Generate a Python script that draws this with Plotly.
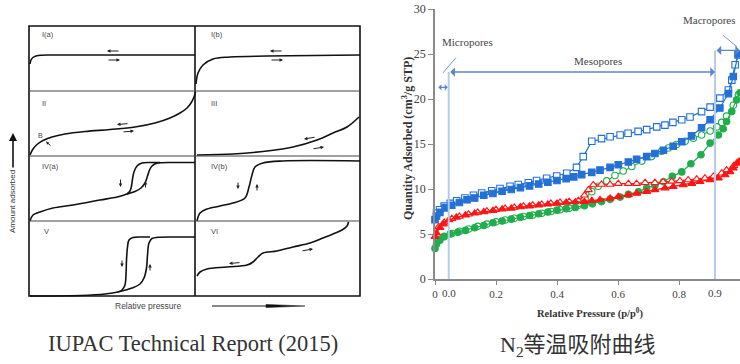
import plotly.graph_objects as go

# ---------------- Right chart data (N2 isotherms) ----------------
blue_ads_x = [0.0, 0.005, 0.016, 0.033, 0.055, 0.08, 0.105, 0.13, 0.16, 0.19, 0.22, 0.25, 0.28, 0.31, 0.34,
              0.37, 0.40, 0.43, 0.455, 0.481, 0.514, 0.541, 0.574, 0.601, 0.634, 0.661, 0.694, 0.721, 0.749,
              0.781, 0.809, 0.841, 0.874, 0.902, 0.934, 0.962, 0.978, 0.994]
blue_ads_y = [6.6, 7.0, 7.4, 7.9, 8.2, 8.5, 8.8, 9.0, 9.3, 9.5, 9.75, 9.95, 10.15, 10.35, 10.55,
              10.75, 10.95, 11.15, 11.35, 11.6, 11.85, 12.1, 12.4, 12.7, 13.0, 13.3, 13.6, 13.95, 14.3,
              14.75, 15.25, 15.9, 16.8, 17.7, 19.0, 20.6, 22.5, 25.0]
blue_des_x = [0.994, 0.984, 0.973, 0.962, 0.934, 0.902, 0.874, 0.836, 0.809, 0.780, 0.754, 0.727, 0.694,
              0.666, 0.633, 0.607, 0.574, 0.546, 0.514, 0.486, 0.464, 0.432, 0.399, 0.366, 0.333, 0.306,
              0.273, 0.246, 0.213, 0.186, 0.153, 0.126, 0.098, 0.071, 0.05, 0.03, 0.015, 0.005]
blue_des_y = [24.9, 23.8, 22.1, 21.0, 20.1, 19.1, 18.6, 18.0, 17.7, 17.4, 17.1, 16.9, 16.6,
              16.4, 16.2, 16.0, 15.8, 15.6, 15.3, 13.6, 12.4, 11.75, 11.45, 11.2, 10.95, 10.7,
              10.5, 10.3, 10.05, 9.8, 9.55, 9.3, 9.0, 8.7, 8.4, 8.1, 7.7, 7.3]
green_ads_x = [0.0, 0.005, 0.016, 0.03, 0.05, 0.075, 0.10, 0.13, 0.16, 0.19, 0.22, 0.25, 0.28, 0.31, 0.34,
               0.37, 0.40, 0.43, 0.46, 0.49, 0.516, 0.546, 0.574, 0.607, 0.634, 0.667, 0.694, 0.721, 0.749,
               0.778, 0.809, 0.839, 0.872, 0.902, 0.929, 0.945, 0.956, 0.973, 0.989, 1.0]
green_ads_y = [3.4, 3.9, 4.3, 4.7, 5.0, 5.2, 5.4, 5.7, 5.95, 6.25, 6.45, 6.65, 6.85, 7.05, 7.25,
               7.45, 7.65, 7.8, 7.95, 8.15, 8.35, 8.6, 8.85, 9.1, 9.4, 9.7, 10.1, 10.4, 10.8,
               11.4, 11.9, 12.8, 13.8, 15.1, 16.0, 16.7, 17.5, 18.6, 19.9, 20.7]
green_des_x = [0.995, 0.978, 0.956, 0.94, 0.924, 0.902, 0.874, 0.847, 0.82, 0.792, 0.765, 0.743, 0.71,
               0.678, 0.645, 0.617, 0.59, 0.563, 0.535, 0.514, 0.492, 0.47, 0.44, 0.41, 0.38, 0.35,
               0.32, 0.29, 0.26, 0.23, 0.2, 0.17, 0.14, 0.11, 0.08, 0.055, 0.03, 0.012]
green_des_y = [20.5, 19.3, 18.1, 17.4, 16.9, 16.45, 16.0, 15.65, 15.3, 14.95, 14.55, 14.2, 13.6,
               13.1, 12.5, 12.0, 11.5, 10.9, 10.3, 9.7, 8.9, 8.2, 7.85, 7.7, 7.5, 7.3,
               7.1, 6.95, 6.75, 6.55, 6.35, 6.1, 5.85, 5.55, 5.3, 5.05, 4.75, 4.35]
red_ads_x = [0.0, 0.005, 0.016, 0.028, 0.045, 0.07, 0.10, 0.13, 0.16, 0.19, 0.22, 0.25, 0.28, 0.31, 0.34,
             0.37, 0.40, 0.43, 0.46, 0.49, 0.514, 0.541, 0.574, 0.601, 0.634, 0.661, 0.694, 0.721, 0.754,
             0.781, 0.814, 0.842, 0.869, 0.902, 0.929, 0.951, 0.967, 0.978, 0.989, 1.0]
red_ads_y = [4.7, 5.1, 5.7, 6.1, 6.55, 6.85, 7.1, 7.3, 7.45, 7.6, 7.75, 7.85, 8.0, 8.1, 8.2,
             8.3, 8.4, 8.5, 8.55, 8.6, 8.7, 8.8, 8.95, 9.15, 9.35, 9.5, 9.7, 9.9, 10.1,
             10.25, 10.45, 10.6, 10.8, 11.0, 11.2, 11.55, 11.9, 12.3, 12.85, 13.1]
red_des_x = [0.995, 0.98, 0.956, 0.94, 0.913, 0.885, 0.858, 0.83, 0.803, 0.776, 0.748, 0.721, 0.689,
             0.661, 0.634, 0.601, 0.574, 0.546, 0.519, 0.503, 0.49, 0.47, 0.44, 0.41, 0.38, 0.35,
             0.32, 0.29, 0.26, 0.23, 0.2, 0.17, 0.14, 0.11, 0.08, 0.055, 0.03, 0.012]
red_des_y = [13.0, 12.6, 12.1, 11.75, 11.4, 11.2, 11.1, 11.0, 10.9, 10.85, 10.8, 10.7, 10.7,
             10.6, 10.6, 10.6, 10.5, 10.5, 10.45, 9.9, 9.3, 8.7, 8.6, 8.5, 8.4, 8.3,
             8.2, 8.1, 7.95, 7.85, 7.7, 7.55, 7.4, 7.2, 6.95, 6.7, 6.3, 5.8]

x_tick_vals = [0, 0.2, 0.4, 0.6, 0.8, 1.0]
x_tick_text = ["0", "0.2", "0.4", "0.6", "0.8", "1"]
y_tick_vals = [0, 5, 10, 15, 20, 25, 30]

micro_limit = 0.045
macro_limit = 0.918

# ---------------- Left diagram: schematic IUPAC isotherm curves (diagram units) ----------------
curve_Ia_x = [30, 31, 33, 36, 41, 50, 70, 195]
curve_Ia_y = [64, 60, 57.5, 56, 55.2, 55, 55, 55]
curve_Ib_x = [196, 198, 203, 213, 230, 267, 360]
curve_Ib_y = [84, 73, 65, 59, 57, 56, 55]
curve_II_x = [30, 33, 37, 43, 52, 65, 85, 110, 135, 155, 170, 180, 187, 191, 194, 195.5]
curve_II_y = [155, 149, 144.5, 140.5, 137, 134, 131.5, 129.5, 127, 123, 118, 113, 108, 103, 97, 92]
curve_III_x = [197, 233, 267, 293, 317, 333, 347, 359]
curve_III_y = [155, 154, 151, 147, 140, 133, 127, 117]
curve_IVa_ads_x = [30, 33, 40, 53, 73, 100, 117, 127, 135, 141, 145, 147.5, 149.5, 152, 156, 162, 170, 195]
curve_IVa_ads_y = [221, 215, 212, 208, 205, 200, 197, 194, 191.5, 188, 183, 176, 170, 166, 163.5, 162.7, 162.5, 162.5]
curve_IVa_des_x = [127, 130, 131.5, 132.5, 134, 137, 142, 150, 160]
curve_IVa_des_y = [194, 191, 186, 179, 172, 166, 163, 162.5, 162.5]
curve_IVb_x = [197, 200, 207, 220, 233, 245, 249, 252, 255, 263, 283, 360]
curve_IVb_y = [221, 213, 209, 206, 203, 198, 187, 175, 167, 163, 161, 161]
curve_V_ads_x = [30, 80, 105, 120, 132, 140, 144, 146.5, 147.5, 149, 152, 158, 175, 195]
curve_V_ads_y = [296, 295.5, 294, 291.5, 288, 284, 278, 268, 255, 243, 238.5, 237.3, 237, 237]
curve_V_des_x = [118, 122, 125, 126, 126.5, 127.5, 129, 133, 140, 150]
curve_V_des_y = [292, 290, 285, 275, 260, 247, 240, 237.5, 237, 237]
curve_VI_x = [197, 200, 207, 227, 247, 253, 258, 263, 277, 293, 310, 323, 333, 342, 347, 348.5]
curve_VI_y = [276, 272, 269, 267, 265, 262, 257, 253, 251, 247, 243, 238, 234, 230, 226, 222]

panel_labels = ["I(a)", "I(b)", "II", "III", "IV(a)", "IV(b)", "V", "VI"]
panel_label_x = [40, 209, 40, 209, 40, 209, 42, 209]
panel_label_y = [34, 34, 103, 103, 166, 166, 231, 231]

# small direction arrows inside the panels: (head_x, head_y, tail_x, tail_y)
panel_arrows = [
    (107, 51, 120, 51), (120, 60, 107, 60),
    (270, 51, 283, 51), (283, 60, 270, 60),
    (117, 124.5, 129, 123.5), (134, 131, 122, 132),
    (304, 139, 316, 137), (324, 147, 312, 149),
    (120.5, 187, 120.5, 178), (145.5, 181, 145.5, 189),
    (238, 189, 238, 181), (257, 184, 257, 192),
    (122, 267, 122, 259), (150, 264, 150, 272),
    (229, 263.5, 241, 262.5), (313, 249, 301, 251),
]

SERIF = "Liberation Serif, Times New Roman, serif"
SANS = "Liberation Sans, Arial, sans-serif"
BLUE = "#2370d6"
GREEN = "#1fae4b"
RED = "#ff1414"

fig = go.Figure()

# ---------- left diagram curves ----------
left_curves = [
    (curve_Ia_x, curve_Ia_y), (curve_Ib_x, curve_Ib_y), (curve_II_x, curve_II_y),
    (curve_III_x, curve_III_y), (curve_IVa_ads_x, curve_IVa_ads_y), (curve_IVa_des_x, curve_IVa_des_y),
    (curve_IVb_x, curve_IVb_y), (curve_V_ads_x, curve_V_ads_y), (curve_V_des_x, curve_V_des_y),
    (curve_VI_x, curve_VI_y),
]
for cx, cy in left_curves:
    fig.add_trace(go.Scatter(x=cx, y=cy, mode="lines", xaxis="x2", yaxis="y2",
                             line=dict(color="#111111", width=1.6, shape="spline", smoothing=1.0),
                             hoverinfo="skip", showlegend=False))

# ---------- right chart series ----------
def add_series(x, y, color, symbol, open_marker):
    fig.add_trace(go.Scatter(
        x=x, y=y, mode="lines+markers", xaxis="x", yaxis="y", cliponaxis=False,
        line=dict(color=color, width=1.2),
        marker=dict(symbol=symbol, size=6.5 if symbol != "triangle-up" else 7,
                    color="white" if open_marker else color,
                    line=dict(color=color, width=1.1)),
        showlegend=False))

add_series(green_des_x, green_des_y, GREEN, "circle", True)
add_series(green_ads_x, green_ads_y, GREEN, "circle", False)
add_series(red_des_x, red_des_y, RED, "triangle-up", True)
add_series(red_ads_x, red_ads_y, RED, "triangle-up", False)
add_series(blue_des_x, blue_des_y, BLUE, "square", True)
add_series(blue_ads_x, blue_ads_y, BLUE, "square", False)

shapes = []
# left diagram frame
shapes.append(dict(type="rect", xref="x2", yref="y2", x0=29, x1=360, y0=26, y1=296,
                   line=dict(color="#111111", width=1.6)))
shapes.append(dict(type="line", xref="x2", yref="y2", x0=195, x1=195, y0=26, y1=296,
                   line=dict(color="#111111", width=1.6)))
for yy in [91, 156, 221]:
    shapes.append(dict(type="line", xref="x2", yref="y2", x0=29, x1=360, y0=yy, y1=yy,
                       line=dict(color="#444444", width=1.1)))
# relative pressure arrow
shapes.append(dict(type="line", xref="x2", yref="y2", x0=212, x1=270, y0=306, y1=306,
                   line=dict(color="#111111", width=1)))
shapes.append(dict(type="path", xref="x2", yref="y2", path="M 266 304.4 L 305 306 L 266 307.6 Z",
                   fillcolor="#111111", line=dict(color="#111111", width=0.5)))
# pore boundary lines (right chart)
shapes.append(dict(type="line", xref="x", yref="y", x0=micro_limit, x1=micro_limit, y0=0, y1=23,
                   line=dict(color="#b7cbe8", width=2)))
shapes.append(dict(type="line", xref="x", yref="y", x0=macro_limit, x1=macro_limit, y0=0, y1=25.4,
                   line=dict(color="#b7cbe8", width=2)))
# pointer lines
shapes.append(dict(type="line", xref="x", yref="y", x0=0.026, x1=0.069, y0=22.9, y1=24.6,
                   line=dict(color="#6f95cf", width=1)))
shapes.append(dict(type="line", xref="x", yref="y", x0=0.944, x1=0.99, y0=27.1, y1=25.8,
                   line=dict(color="#6f95cf", width=1)))

annotations = []
for lab, lx, ly in zip(panel_labels, panel_label_x, panel_label_y):
    annotations.append(dict(x=lx, y=ly, xref="x2", yref="y2", text=lab, showarrow=False,
                            xanchor="left", yanchor="middle",
                            font=dict(family=SANS, size=7.5, color="#444444")))
for hx, hy, tx, ty in panel_arrows:
    annotations.append(dict(x=hx, y=hy, ax=tx, ay=ty, xref="x2", yref="y2", axref="x2", ayref="y2",
                            text="", showarrow=True, arrowhead=2, arrowsize=0.7, arrowwidth=1,
                            arrowcolor="#222222"))
# B point in type II
annotations.append(dict(x=40, y=135, xref="x2", yref="y2", text="B", showarrow=False,
                        font=dict(family=SANS, size=7, color="#444444")))
annotations.append(dict(x=46, y=141.5, ax=52, ay=147, xref="x2", yref="y2", axref="x2", ayref="y2",
                        text="", showarrow=True, arrowhead=2, arrowsize=0.6, arrowwidth=1,
                        arrowcolor="#222222"))
# Amount adsorbed axis label with arrow
annotations.append(dict(x=12, y=202, xref="x2", yref="y2", text="Amount adsorbed", textangle=-90,
                        showarrow=False, font=dict(family=SANS, size=8, color="#333333")))
annotations.append(dict(x=13, y=133, ax=13, ay=169, xref="x2", yref="y2", axref="x2", ayref="y2",
                        text="", showarrow=True, arrowhead=2, arrowsize=1, arrowwidth=1.6,
                        arrowcolor="#111111"))
annotations.append(dict(x=148, y=306, xref="x2", yref="y2", text="Relative pressure",
                        showarrow=False, font=dict(family=SANS, size=8.5, color="#444444")))
annotations.append(dict(x=193, y=343, xref="x2", yref="y2", text="IUPAC Technical Report (2015)",
                        showarrow=False, font=dict(family=SERIF, size=22.5, color="#333333")))

# right chart texts
annotations.append(dict(x=407, y=139, xref="x2", yref="y2",
                        text="<b>Quantity Adsorbed (cm<sup>3</sup>/g STP)</b>", textangle=-90,
                        showarrow=False, font=dict(family=SERIF, size=12, color="#333333")))
annotations.append(dict(x=590, y=313, xref="x2", yref="y2",
                        text="<b>Relative Pressure (p/p<sup>0</sup>)</b>",
                        showarrow=False, font=dict(family=SERIF, size=10.5, color="#333333")))
annotations.append(dict(x=578, y=346, xref="x2", yref="y2",
                        text="N<sub>2</sub>等温吸附曲线",
                        showarrow=False, font=dict(family="Liberation Serif, Noto Sans CJK SC", size=22,
                                                   color="#333333")))
annotations.append(dict(x=micro_limit, y=293, xref="x", yref="y2", text="0.0", showarrow=False,
                        font=dict(family=SERIF, size=11, color="#404040")))
annotations.append(dict(x=macro_limit, y=293, xref="x", yref="y2", text="0.9", showarrow=False,
                        font=dict(family=SERIF, size=11, color="#404040")))
annotations.append(dict(x=0.105, y=26.3, xref="x", yref="y", text="Micropores", showarrow=False,
                        font=dict(family=SERIF, size=11, color="#444444")))
annotations.append(dict(x=0.534, y=24.2, xref="x", yref="y", text="Mesopores", showarrow=False,
                        font=dict(family=SERIF, size=11, color="#444444")))
annotations.append(dict(x=0.90, y=28.8, xref="x", yref="y", text="Macropores", showarrow=False,
                        font=dict(family=SERIF, size=11, color="#444444")))
# double-headed range arrows
for x0, x1, yy, sz in [(0.006, micro_limit - 0.003, 21.3, 0.8), (micro_limit, macro_limit, 23.0, 1.2),
                       (macro_limit, 1.0, 25.4, 1.2)]:
    annotations.append(dict(x=x1, y=yy, ax=x0, ay=yy, xref="x", yref="y", axref="x", ayref="y",
                            text="", showarrow=True, arrowhead=1, startarrowhead=1, arrowside="end+start",
                            arrowsize=sz, startarrowsize=sz, arrowwidth=1.3, arrowcolor="#5b87c9"))

fig.update_layout(
    width=740, height=364,
    margin=dict(l=0, r=0, t=0, b=0, autoexpand=False),
    paper_bgcolor="white", plot_bgcolor="rgba(0,0,0,0)",
    showlegend=False,
    xaxis=dict(domain=[435 / 740, 1.0], range=[0, 1], anchor="y", automargin=False,
               tickvals=x_tick_vals, ticktext=x_tick_text,
               showline=True, linecolor="#8a8a8a", linewidth=1.6,
               ticks="outside", ticklen=4, tickcolor="#8a8a8a", tickwidth=1.2,
               showgrid=False, zeroline=False,
               tickfont=dict(family=SERIF, size=11, color="#404040")),
    yaxis=dict(domain=[(364 - 279) / 364, (364 - 9) / 364], range=[0, 30], anchor="x", automargin=False,
               tickvals=y_tick_vals,
               showline=True, linecolor="#8a8a8a", linewidth=1.6,
               ticks="outside", ticklen=5, tickcolor="#8a8a8a", tickwidth=1.2,
               showgrid=False, zeroline=False,
               tickfont=dict(family=SERIF, size=12, color="#404040")),
    xaxis2=dict(domain=[0, 1], range=[0, 740], anchor="y2", visible=False, fixedrange=True,
                automargin=False),
    yaxis2=dict(domain=[0, 1], range=[364, 0], anchor="x2", visible=False, fixedrange=True,
                automargin=False),
    shapes=shapes,
    annotations=annotations,
)

fig.write_html("out.html", config={"displayModeBar": False},
               post_script="document.body.style.margin='0px';document.body.style.overflow='hidden';")
